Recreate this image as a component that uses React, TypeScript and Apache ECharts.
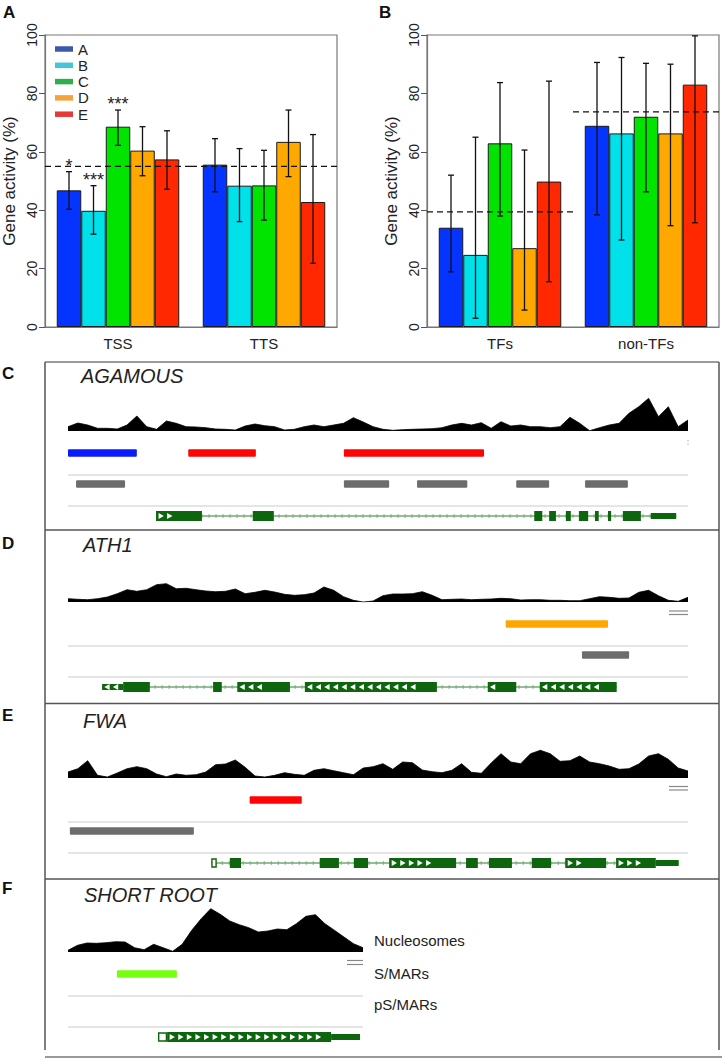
import React, { useEffect, useRef } from "react";
import * as echarts from "echarts";

// ---------- Panels A & B data ----------
const classes = ["A", "B", "C", "D", "E"];
const barColors = ["#0533ff", "#00e1ea", "#00e400", "#ffa800", "#ff2800"];
const legendColors = ["#3a5aa8", "#43c6d6", "#2fae4c", "#f4a23c", "#e63a36"];

const catsA = ["TSS", "TTS"];
const catsB = ["TFs", "non-TFs"];

// per class: [TSS, TTS]
const actA = [[46.8, 55.6], [39.8, 48.4], [68.6, 48.5], [60.4, 63.4], [57.4, 42.8]];
const lowA = [[40.3, 46.3], [31.8, 36.1], [62.2, 36.6], [51.8, 51.5], [47.2, 21.8]];
const highA = [[53.2, 64.5], [48.4, 61.1], [74.3, 60.5], [68.6, 74.3], [67.2, 65.9]];
const starsA = [["*", ""], ["***", ""], ["***", ""], ["", ""], ["", ""]];
const refA = [55, 55];

// per class: [TFs, non-TFs]
const actB = [[34.0, 68.9], [24.7, 66.3], [62.9, 72.0], [27.0, 66.3], [49.8, 83.0]];
const lowB = [[18.9, 38.4], [3.0, 29.8], [38.0, 46.3], [5.8, 34.7], [15.5, 35.7]];
const highB = [[52.0, 90.6], [65.0, 92.3], [83.7, 90.3], [60.6, 90.0], [84.2, 99.7]];
const refB = [39.4, 73.7];

// ---------- Panels C-F data (positions in % of the displayed region) ----------
const nucC = [4.3, 8, 6, 2.7, 2.7, 2, 6, 15, 4.3, 1.7, 10, 7.7, 4.3, 4, 3.3, 2, 1.7, 1, 5, 7, 5.3, 4.3, 1, 1.7, 4.3, 6, 4.3, 6, 7.7, 13.3, 9, 4.3, 1.7, 0.7, 1.3, 1.7, 2, 2.3, 3.3, 6, 7.7, 6, 8.3, 2.7, 9.3, 5, 6, 4.3, 4.3, 3.3, 4.3, 13.7, 7.7, 0.3, 3.3, 6, 7.7, 17.7, 24.3, 32.7, 14.3, 24.3, 4.3, 11];
const nucD = [3.3, 2.7, 2.3, 3.3, 5, 8.3, 12.3, 10.7, 12.3, 17.3, 18.3, 13.3, 13.7, 12.3, 11, 10.3, 10.7, 13, 8.3, 9.7, 11.7, 10, 7.7, 6.7, 7.3, 9, 15, 11.7, 5.3, 1.7, 0, 1, 6.3, 8, 8, 8.3, 10.3, 6.7, 2.3, 2.7, 3, 2.3, 2.7, 3, 3.7, 3.3, 2, 2.3, 2.3, 1.7, 1.7, 1.3, 1.3, 3.3, 5.3, 4.7, 3.7, 4, 9.7, 11.7, 6.3, 1.7, 0.7, 4.7];
const nucE = [6, 9.3, 17.3, 2.7, 1, 5, 9.3, 11.3, 9.3, 4, 1.3, 4, 2.7, 3.3, 6, 13.3, 14, 18, 10.7, 2, 1, 2.7, 5.3, 3.7, 2.7, 7.7, 9.3, 7.3, 5.3, 3.3, 10, 11.3, 14.3, 8.7, 16, 15.3, 8, 6.3, 5.3, 7.7, 14.3, 5.7, 4.7, 15, 24.3, 16, 14.3, 24.3, 27.7, 24.3, 16.7, 17.3, 22, 16, 14.3, 12, 8.7, 9.3, 14, 22, 24.3, 18.7, 10, 7];
const nucF = [1.7, 6.7, 9, 8.7, 9.3, 10.3, 10, 4.3, 2.3, 7.7, 4.3, 0.7, 7.7, 21.7, 33.3, 43.3, 37.7, 31, 27.3, 24.3, 20, 21, 23, 22.3, 28.3, 35.7, 37.3, 28.3, 21.7, 15, 8.3, 4.3];

const smarC = [[0, 11.1, "A"], [19.4, 30.3, "E"], [44.5, 67.1, "E"]];
const smarD = [[70.6, 87.1, "D"]];
const smarE = [[29.3, 37.7, "E"]];
const smarF = [[16.6, 36.9, "C"]];

const psmarC = [[1.3, 9.2], [44.5, 51.8], [56.3, 64.4], [72.3, 77.6], [83.4, 90.3]];
const psmarD = [[82.9, 90.5]];
const psmarE = [[0.3, 20.3]];
const psmarF: number[][] = [];

const geneNames = ["AGAMOUS", "ATH1", "FWA", "SHORT ROOT"];
const spanC = [14.2, 98.1];
const spanD = [5.5, 88.5];
const spanE = [23.1, 98.5];
const spanF = [30.5, 99.0];
const strands = [1, -1, 1, 1];
// [start, end, kind (C = coding, U = UTR, O = open box), arrow count]
const exonsC = [[14.2, 21.6, "C", 2], [29.8, 33.2, "C", 0], [75.2, 76.5, "C", 0], [77.6, 78.7, "C", 0], [80.3, 81.1, "C", 0], [82.4, 83.9, "C", 0], [85.0, 85.6, "C", 0], [87.1, 87.6, "C", 0], [89.5, 92.4, "C", 0], [94.0, 98.1, "U", 0]];
const exonsD = [[5.5, 8.9, "U", 2], [8.9, 13.2, "C", 0], [23.4, 24.8, "C", 0], [27.3, 35.8, "C", 3], [38.2, 59.5, "C", 13], [67.7, 72.3, "C", 1], [76.1, 88.5, "C", 7]];
const exonsE = [[23.1, 24.0, "O", 0], [26.1, 27.9, "C", 0], [40.6, 43.7, "C", 0], [46.1, 48.4, "C", 0], [51.8, 62.6, "C", 5], [64.2, 66.1, "C", 0], [67.9, 71.6, "C", 0], [74.8, 77.9, "C", 0], [80.2, 86.8, "C", 2], [88.4, 94.8, "C", 3], [94.8, 98.5, "U", 0]];
const exonsF = [[30.5, 33.6, "O", 0], [33.6, 89.2, "C", 18], [89.2, 99.0, "U", 0]];

const trackLabels = ["Nucleosomes", "S/MARs", "pS/MARs"];

// ---------- styling / layout ----------
const FONT = "'Liberation Sans', Arial, Helvetica, sans-serif";
const smarColors: Record<string, string> = { A: "#0a1cff", C: "#76ff10", D: "#ffa600", E: "#ff0404" };
const GREEN = "#0d660d";
const BAR_W = 24.5;
const ROW_SMAR = 22, ROW_SEP1 = 44, ROW_PSMAR = 53, ROW_SEP2 = 75, ROW_GENE = 85;

const panels = [
  { nuc: nucC, smar: smarC, psmar: psmarC, span: spanC, exons: exonsC, base: 431, width: 620 },
  { nuc: nucD, smar: smarD, psmar: psmarD, span: spanD, exons: exonsD, base: 602, width: 620 },
  { nuc: nucE, smar: smarE, psmar: psmarE, span: spanE, exons: exonsE, base: 778, width: 620 },
  { nuc: nucF, smar: smarF, psmar: psmarF, span: spanF, exons: exonsF, base: 952, width: 295 },
];

function barSeries(g: number, act: number[][]) {
  return classes.map((name, k) => ({
    type: "bar",
    name,
    xAxisIndex: g,
    yAxisIndex: g,
    data: act[k],
    barWidth: BAR_W,
    barGap: "0%",
    itemStyle: { color: barColors[k], borderColor: "#1a1a1a", borderWidth: 1 },
    silent: true,
  }));
}

function errSeries(g: number, low: number[][], high: number[][], stars: string[][] | null) {
  const data: number[][] = [];
  const labels: string[] = [];
  for (let k = 0; k < 5; k++)
    for (let c = 0; c < 2; c++) {
      data.push([c, low[k][c], high[k][c], k]);
      labels.push(stars ? stars[k][c] : "");
    }
  return {
    type: "custom",
    xAxisIndex: g,
    yAxisIndex: g,
    z: 6,
    silent: true,
    encode: { x: 0, y: [1, 2] },
    data,
    renderItem: (p: any, api: any) => {
      const c = api.value(0);
      const k = api.value(3);
      const lo = api.coord([c, api.value(1)]);
      const hi = api.coord([c, api.value(2)]);
      const x = lo[0] + (k - 2) * BAR_W;
      const st = { stroke: "#111", lineWidth: 1.3 };
      const ch: any[] = [
        { type: "line", shape: { x1: x, y1: lo[1], x2: x, y2: hi[1] }, style: st },
        { type: "line", shape: { x1: x - 3, y1: lo[1], x2: x + 3, y2: lo[1] }, style: st },
        { type: "line", shape: { x1: x - 3, y1: hi[1], x2: x + 3, y2: hi[1] }, style: st },
      ];
      const s = labels[p.dataIndex];
      if (s) {
        ch.push({
          type: "text",
          x,
          y: hi[1] + 3,
          style: { text: s, fill: "#222", font: `18px ${FONT}`, textAlign: "center", textVerticalAlign: "bottom" },
        });
      }
      return { type: "group", children: ch };
    },
  };
}

function refSeries(g: number, ref: number[]) {
  return {
    type: "custom",
    xAxisIndex: g,
    yAxisIndex: g,
    z: 7,
    silent: true,
    encode: { x: 0, y: 1 },
    data: ref.map((v, i) => [i, v]),
    renderItem: (p: any, api: any) => {
      const pt = api.coord([api.value(0), api.value(1)]);
      const bw = api.size([1, 0])[0];
      return {
        type: "line",
        shape: { x1: pt[0] - bw / 2, y1: pt[1], x2: pt[0] + bw / 2, y2: pt[1] },
        style: { stroke: "#111", lineWidth: 1.3, lineDash: [6, 4] },
      };
    },
  };
}

function panelSeries(i: number) {
  const p = panels[i];
  const nx = 2 + i * 2;
  const fx = nx + 1;
  const out: any[] = [];
  out.push({
    type: "line",
    xAxisIndex: nx,
    yAxisIndex: nx,
    data: p.nuc.map((v, j) => [(j * 100) / (p.nuc.length - 1), v]),
    symbol: "none",
    lineStyle: { color: "#000", width: 0.8 },
    areaStyle: { color: "#000", opacity: 1 },
    silent: true,
  });
  out.push({
    type: "custom",
    xAxisIndex: fx,
    yAxisIndex: fx,
    silent: true,
    encode: { x: 0, y: 1 },
    data: [[0, ROW_SEP1], [0, ROW_SEP2]],
    renderItem: (pr: any, api: any) => {
      const a = api.coord([0, api.value(1)]);
      const b = api.coord([100, api.value(1)]);
      return { type: "line", shape: { x1: a[0], y1: a[1], x2: b[0], y2: b[1] }, style: { stroke: "#dcdcdc", lineWidth: 1.5 } };
    },
  });
  const rectRender = (colorOf: (k: number) => string) => (pr: any, api: any) => {
    const a = api.coord([api.value(0), api.value(2)]);
    const b = api.coord([api.value(1), api.value(2)]);
    return {
      type: "rect",
      shape: { x: a[0], y: a[1] - 3.75, width: b[0] - a[0], height: 7.5, r: 1 },
      style: { fill: colorOf(pr.dataIndex) },
    };
  };
  out.push({
    type: "custom",
    xAxisIndex: fx,
    yAxisIndex: fx,
    silent: true,
    encode: { x: [0, 1], y: 2 },
    data: p.smar.map((s: any) => [s[0], s[1], ROW_SMAR]),
    renderItem: rectRender((k) => smarColors[p.smar[k][2] as string]),
  });
  out.push({
    type: "custom",
    xAxisIndex: fx,
    yAxisIndex: fx,
    silent: true,
    encode: { x: [0, 1], y: 2 },
    data: p.psmar.map((s) => [s[0], s[1], ROW_PSMAR]),
    renderItem: rectRender(() => "#6c6c6c"),
  });
  // intron line
  out.push({
    type: "custom",
    xAxisIndex: fx,
    yAxisIndex: fx,
    silent: true,
    encode: { x: [0, 1], y: 2 },
    data: [[p.span[0], p.span[1], ROW_GENE]],
    renderItem: (pr: any, api: any) => {
      const a = api.coord([api.value(0), api.value(2)]);
      const b = api.coord([api.value(1), api.value(2)]);
      const ch: any[] = [
        { type: "line", shape: { x1: a[0], y1: a[1], x2: b[0], y2: b[1] }, style: { stroke: "#2f7f2f", lineWidth: 1 } },
      ];
      for (let x = a[0] + 4; x < b[0]; x += 7) {
        ch.push({ type: "line", shape: { x1: x, y1: a[1] - 2, x2: x, y2: a[1] + 2 }, style: { stroke: "#6aa56a", lineWidth: 0.8 } });
      }
      return { type: "group", children: ch };
    },
  });
  // exons
  const strand = strands[i];
  out.push({
    type: "custom",
    xAxisIndex: fx,
    yAxisIndex: fx,
    silent: true,
    z: 4,
    encode: { x: [0, 1], y: 2 },
    data: p.exons.map((e: any) => [e[0], e[1], ROW_GENE]),
    renderItem: (pr: any, api: any) => {
      const e: any = p.exons[pr.dataIndex];
      const a = api.coord([api.value(0), api.value(2)]);
      const b = api.coord([api.value(1), api.value(2)]);
      const y = a[1];
      const kind = e[2];
      const ch: any[] = [];
      if (kind === "O") {
        ch.push({ type: "rect", shape: { x: a[0] + 0.7, y: y - 4, width: Math.max(b[0] - a[0] - 1.4, 1), height: 8 }, style: { fill: "#fff", stroke: GREEN, lineWidth: 1.4 } });
      } else {
        const h = kind === "U" ? 6 : 10;
        ch.push({ type: "rect", shape: { x: a[0], y: y - h / 2, width: b[0] - a[0], height: h }, style: { fill: GREEN } });
      }
      const n = e[3] as number;
      for (let j = 0; j < n; j++) {
        const cx = a[0] + 5 + j * 8.6;
        const pts = strand > 0
          ? [[cx - 2.5, y - 3], [cx + 2.8, y], [cx - 2.5, y + 3]]
          : [[cx + 2.5, y - 3], [cx - 2.8, y], [cx + 2.5, y + 3]];
        ch.push({ type: "polygon", shape: { points: pts }, style: { fill: "#fff" } });
      }
      return { type: "group", children: ch };
    },
  });
  return out;
}

function buildOption() {
  const grids: any[] = [
    { left: 45, top: 35, width: 292, height: 292, show: true, borderColor: "#777", borderWidth: 1.2 },
    { left: 427, top: 35, width: 292, height: 292, show: true, borderColor: "#777", borderWidth: 1.2 },
  ];
  const xAxes: any[] = [];
  const yAxes: any[] = [];
  [catsA, catsB].forEach((cats, g) => {
    xAxes.push({
      type: "category",
      gridIndex: g,
      data: cats,
      axisTick: { show: false },
      axisLine: { show: true, lineStyle: { color: "#777", width: 1.2 } },
      axisLabel: { fontSize: 15, color: "#222", margin: 9, fontFamily: FONT },
    });
    yAxes.push({
      type: "value",
      gridIndex: g,
      min: 0,
      max: 100,
      interval: 20,
      name: "Gene activity (%)",
      nameLocation: "middle",
      nameGap: 27,
      nameRotate: 90,
      nameTextStyle: { fontSize: 17, color: "#222", fontFamily: FONT },
      axisLine: { show: true, lineStyle: { color: "#777", width: 1.2 } },
      axisTick: { show: true, length: 6, lineStyle: { color: "#555", width: 1 } },
      axisLabel: { rotate: 90, fontSize: 14, color: "#222", margin: 6, fontFamily: FONT },
      splitLine: { show: false },
    });
  });
  panels.forEach((p) => {
    grids.push({ left: 68, top: p.base - 45, width: p.width, height: 45 });
    grids.push({ left: 68, top: p.base, width: p.width, height: 100 });
    const gi = grids.length - 2;
    xAxes.push({ type: "value", gridIndex: gi, min: 0, max: 100, show: false });
    yAxes.push({ type: "value", gridIndex: gi, min: 0, max: 45, show: false });
    xAxes.push({ type: "value", gridIndex: gi + 1, min: 0, max: 100, show: false });
    yAxes.push({ type: "value", gridIndex: gi + 1, min: 0, max: 100, inverse: true, show: false });
  });

  const series: any[] = [
    ...barSeries(0, actA),
    ...barSeries(1, actB),
    refSeries(0, refA),
    refSeries(1, refB),
    errSeries(0, lowA, highA, starsA),
    errSeries(1, lowB, highB, null),
    ...panelSeries(0),
    ...panelSeries(1),
    ...panelSeries(2),
    ...panelSeries(3),
  ];

  const txt = (text: string, x: number, y: number, font: string, fill = "#222", align = "left") => ({
    type: "text",
    x,
    y,
    silent: true,
    style: { text, font, fill, textAlign: align, textVerticalAlign: "middle" },
  });
  const ln = (x1: number, y1: number, x2: number, y2: number, stroke: string, lineWidth: number) => ({
    type: "line",
    silent: true,
    shape: { x1, y1, x2, y2 },
    style: { stroke, lineWidth },
  });
  const bold = `bold 17px ${FONT}`;
  const ital = `italic 20px ${FONT}`;
  const graphic: any[] = [
    txt("A", 3, 12, bold, "#111"),
    txt("B", 379, 12, bold, "#111"),
    txt("C", 2, 373, bold, "#111"),
    txt("D", 2, 543.5, bold, "#111"),
    txt("E", 2, 715, bold, "#111"),
    txt("F", 2, 888.5, bold, "#111"),
    txt(geneNames[0], 81, 376, ital),
    txt(geneNames[1], 83, 545, ital),
    txt(geneNames[2], 83, 720.5, ital),
    txt(geneNames[3], 84, 895, ital),
    txt(trackLabels[0], 374, 940, `15px ${FONT}`),
    txt(trackLabels[1], 374, 973, `15px ${FONT}`),
    txt(trackLabels[2], 374, 1004, `15px ${FONT}`),
    ln(45, 362, 719, 362, "#7a7a7a", 1.5),
    ln(45, 530, 719, 530, "#555", 1.5),
    ln(45, 703.5, 719, 703.5, "#555", 1.5),
    ln(45, 879, 719, 879, "#555", 1.5),
    ln(45, 362, 45, 1050, "#555", 1.5),
    ln(719, 362, 719, 1050, "#555", 1.5),
    ln(45, 1057, 722, 1057, "#999", 2),
    ln(669, 611, 688, 611, "#888", 1.2),
    ln(669, 614.5, 688, 614.5, "#888", 1.2),
    ln(669, 786.5, 688, 786.5, "#888", 1.2),
    ln(669, 790, 688, 790, "#888", 1.2),
    ln(347, 960.5, 363, 960.5, "#888", 1.2),
    ln(347, 964.5, 363, 964.5, "#888", 1.2),
    ln(688, 440, 688, 441.5, "#aaa", 1),
    ln(688, 443.5, 688, 445, "#aaa", 1),
  ];

  return {
    animation: false,
    backgroundColor: "#fff",
    textStyle: { fontFamily: FONT },
    legend: {
      data: classes.map((n, i) => ({ name: n, itemStyle: { color: legendColors[i], borderWidth: 0 } })),
      orient: "vertical",
      left: 55,
      top: 41.5,
      padding: 0,
      itemWidth: 18,
      itemHeight: 5.5,
      itemGap: 1.3,
      icon: "rect",
      selectedMode: false,
      itemStyle: { borderWidth: 0 },
      textStyle: { fontSize: 15, color: "#222", lineHeight: 15, fontFamily: FONT },
    },
    grid: grids,
    xAxis: xAxes,
    yAxis: yAxes,
    series,
    graphic,
  };
}

export default function App() {
  const ref = useRef<HTMLDivElement>(null);
  useEffect(() => {
    if (!ref.current) return;
    const chart = echarts.init(ref.current, undefined, { renderer: "svg" });
    chart.setOption(buildOption() as any);
    return () => chart.dispose();
  }, []);
  return (
    <div
      ref={ref}
      style={{ position: "absolute", left: 0, top: 0, width: 722, height: 1059, background: "#fff" }}
    />
  );
}
